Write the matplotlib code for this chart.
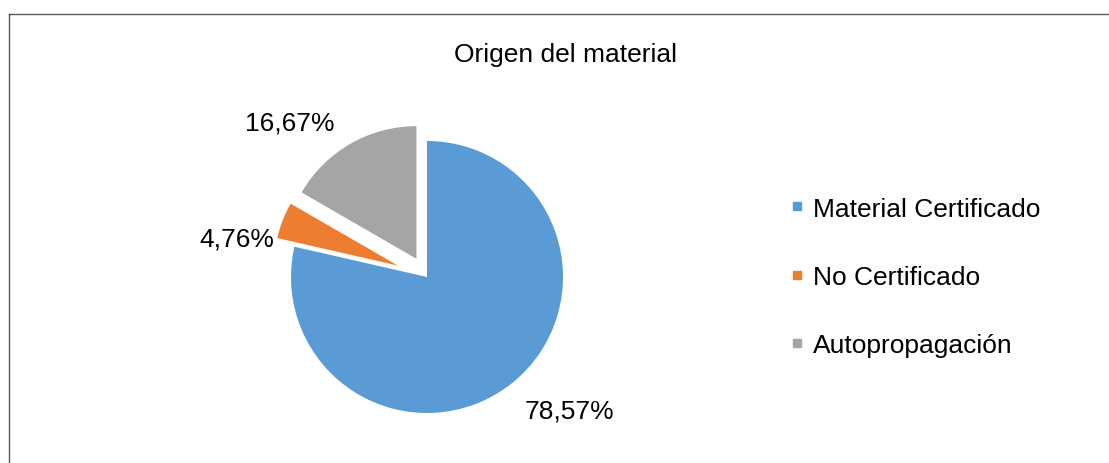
import matplotlib
matplotlib.use("Agg")
from matplotlib import pyplot as plt
from matplotlib.lines import Line2D

plt.rcParams['font.family'] = ['Liberation Sans', 'DejaVu Sans']

categorias = ['Material Certificado', 'No Certificado', 'Autopropagación']
valores = [78.57, 4.76, 16.67]
etiquetas = ['78,57%', '4,76%', '16,67%']
colores = ['#5B9BD5', '#ED7D31', '#A5A5A5']
explode = [0.0, 0.23, 0.155]

W, H = 1109, 464
fig = plt.figure(figsize=(W / 100, H / 100), dpi=100)

# main axes in pixel coordinates for text placement
ax = fig.add_axes([0, 0, 1, 1])
ax.set_xlim(0, W)
ax.set_ylim(0, H)
ax.axis('off')

# pie axes: centre (427, 278) px, radius 136 px
cx, cy, r = 427, 278, 136
half = 1.25 * r
axp = fig.add_axes([(cx - half) / W, (H - cy - half) / H, 2 * half / W, 2 * half / H])
wedges, _ = axp.pie(valores, colors=colores, explode=explode, startangle=90,
                    counterclock=False, wedgeprops=dict(linewidth=0, clip_on=False))
# exploded slices look slightly smaller in the original
wedges[1].set_radius(0.91)
wedges[2].set_radius(0.975)
axp.set_xlim(-1.25, 1.25)
axp.set_ylim(-1.25, 1.25)
axp.axis('off')

pos_etiquetas = [(569, H - 412), (237, H - 240), (290, H - 124)]
for (x, y), t in zip(pos_etiquetas, etiquetas):
    ax.text(x, y, t, ha='center', va='center', fontsize=19, color='#000000')

ax.text(566, H - 55, 'Origen del material', ha='center', va='center',
        fontsize=19, color='#000000')

handles = [Line2D([], [], marker='s', linestyle='none', markersize=6,
                  markerfacecolor=c, markeredgecolor=c) for c in colores]
leg = fig.legend(handles, categorias, loc='center left',
                 bbox_to_anchor=(777 / W, 1 - 278 / H), frameon=False,
                 fontsize=19, labelspacing=1.68, handlelength=0.5,
                 handletextpad=0.35, borderpad=0)

# outer frame (left and top edges visible)
fig.add_artist(Line2D([9 / W, 9 / W], [0, 1 - 15 / H], color='#595959',
                      linewidth=1, transform=fig.transFigure))
fig.add_artist(Line2D([9 / W, 1], [1 - 15 / H, 1 - 15 / H], color='#595959',
                      linewidth=1, transform=fig.transFigure))

fig.savefig('out.png', dpi=100, facecolor='white')
